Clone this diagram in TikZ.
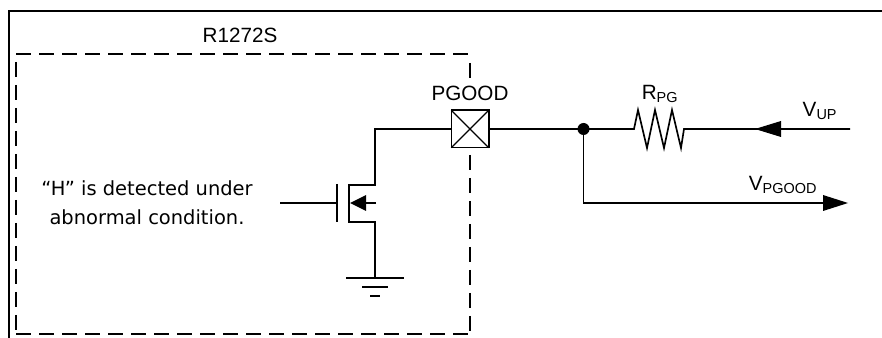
\documentclass[tikz,border=0pt]{standalone}
\usepackage{fontspec}
\setmainfont{Liberation Sans}
\newfontfamily\gothicfont{DejaVu Sans}
\usetikzlibrary{positioning, calc}
\tikzset{
  wire/.style={line width=1.25pt},
  thinwire/.style={line width=1pt},
  icline/.style={line width=1.2pt, dash pattern=on 11.25pt off 6pt},
  lbl/.style={inner sep=0pt, font=\fontsize{15.5}{18}\selectfont},
  padbox/.style={draw, line width=1.25pt, fill=white, minimum size=28pt, inner sep=0pt, outer sep=0pt}
}
\begin{document}
\begin{tikzpicture}[x=.75pt, y=-.75pt]
  \useasboundingbox (0,0) rectangle (882,338);
  \draw[line width=1.7pt] (9,338) -- (9,11) -- (882,11);  %frame
  \draw[icline] (16,54) -- (470,54);  %ic
  \draw[icline] (16,334) -- (470,334);
  \draw[icline] (16,62) -- (16,334);
  \draw[icline] (470,63) -- (470,334);

  \node[lbl] (ictitle) at (240,35) {R1272S};
  \node[lbl, font=\gothicfont\fontsize{14.6}{22}\selectfont, align=center] (note) at (147,203) {“H” is detected under\\abnormal condition.};

  % transistor
  \coordinate (padin) at (470,129);
  \coordinate (drain) at (375,129);
  \coordinate (dtop) at (375,185);
  \coordinate (stop) at (375,222);
  \coordinate (gnd) at (375,278);
  \coordinate (gatein) at (280,203);
  \coordinate (gate) at (337,203);
  \draw[wire] (padin) -- (drain) -- (dtop) -- (349,185) -- (349,222) -- (stop) -- (gnd);
  \draw[thinwire] (gatein) -- (gate);
  \draw[wire] (337,184) -- (337,222);
  \draw[thinwire] (376,203) -- (360,203);
  \fill (350,203) -- (366,195) -- (366,211) -- cycle;
  \draw[thinwire] (346,278) -- (404,278);
  \draw[thinwire] (362,287) -- (388,287);
  \draw[wire] (370,296) -- (380,296);

  \node[padbox] (pad) at (padin) {};
  \draw[line width=1pt] (pad.north west) -- (pad.south east) (pad.north east) -- (pad.south west);
  \node[lbl, fill=white, above=7pt of pad] (padlbl) {PGOOD};

  % output side
  \coordinate (junc) at (583.5,129);
  \coordinate (rin) at (634,129);
  \coordinate (rout) at (684,129);
  \coordinate (vup) at (850,129);
  \coordinate (corner) at (583.5,203);
  \coordinate (vout) at (848,203);
  \draw[wire] (pad.east) -- (rin) -- (638,110) -- (647,148) -- (655,110) -- (664,148) -- (672,110) -- (681,148) -- (rout) -- (vup);
  \fill (junc) circle (4.5pt);
  \draw[wire] (junc) -- (corner) -- (823,203);
  \fill (755,129) -- (781,121) -- (781,137) -- cycle;
  \fill (vout) -- (823,195) -- (823,211) -- cycle;

  \node[lbl] (rpg) at (660,94) {R\textsubscript{PG}};
  \node[lbl] (vuplbl) at (820,111) {V\textsubscript{UP}};
  \node[lbl] (vpgood) at (783,185) {V\textsubscript{PGOOD}};
\end{tikzpicture}
\end{document}
